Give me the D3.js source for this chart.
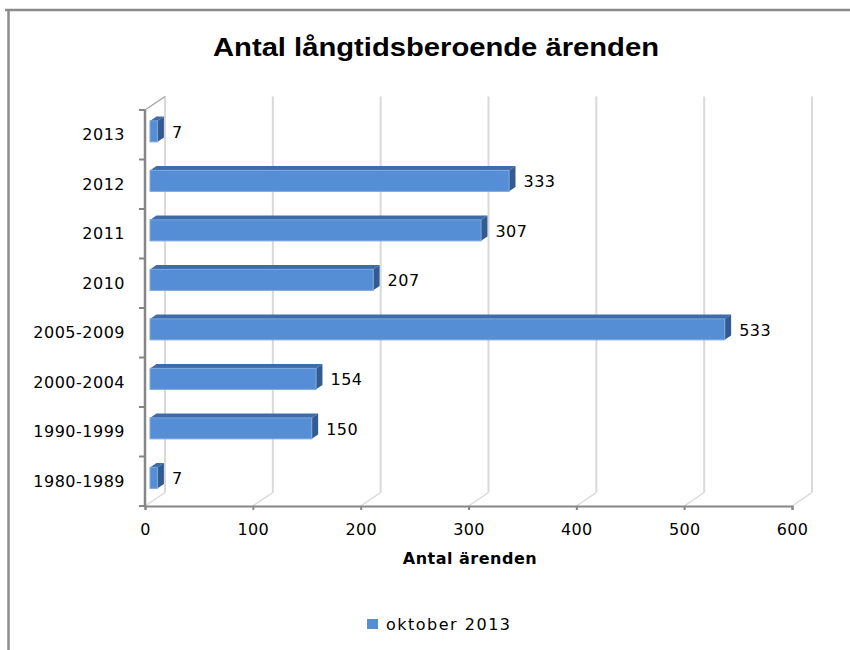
<!DOCTYPE html>
<html>
<head>
<meta charset="utf-8">
<script src="https://cdn.jsdelivr.net/npm/d3@7"></script>
<style>
  html, body { margin: 0; padding: 0; background: #fff; }
  svg { display: block; }
</style>
</head>
<body>
<div id="chart"></div>
<script>
// ---- data ----
const categories = ["2013", "2012", "2011", "2010", "2005-2009", "2000-2004", "1990-1999", "1980-1989"];
const values = [7, 333, 307, 207, 533, 154, 150, 7];
const xTicks = [0, 100, 200, 300, 400, 500, 600];
const seriesName = "oktober 2013";
const titleText = "Antal långtidsberoende ärenden";
const xAxisTitle = "Antal ärenden";

// ---- layout ----
const W = 850, H = 650;
const svg = d3.select("#chart").append("svg").attr("width", W).attr("height", H);

const plotLeft = 145, plotRight = 792, plotTop = 110, plotBottom = 506;
const depthX = 20, depthY = -13.5;        // full 3D depth vector
const barOff = 0.25, barDepth = 0.32;     // bar position / depth as fraction of full depth
const barFrac = 0.424;                    // bar thickness as fraction of band

const x = d3.scaleLinear().domain([0, 600]).range([plotLeft, plotRight]);
const y = d3.scaleBand().domain(categories).range([plotTop, plotBottom]);

const gridColor = "#d9d9d9";
const axisColor = "#868686";
const font = "'DejaVu Sans', Verdana, sans-serif";

// outer frame (partially visible)
svg.append("line").attr("x1", 5).attr("x2", W).attr("y1", 10).attr("y2", 10)
  .attr("stroke", "#8c8c8c").attr("stroke-width", 2.5);
svg.append("line").attr("x1", 8.5).attr("x2", 8.5).attr("y1", 10).attr("y2", H)
  .attr("stroke", "#8c8c8c").attr("stroke-width", 2.5);

// title
svg.append("text").attr("x", 436).attr("y", 56).attr("text-anchor", "middle")
  .attr("font-family", "'Liberation Sans', Arial, sans-serif").attr("font-weight", "bold")
  .attr("font-size", 26).attr("fill", "#000")
  .attr("textLength", 446).attr("lengthAdjust", "spacingAndGlyphs")
  .text(titleText);

// back wall gridlines + floor diagonals
const grid = svg.append("g");
xTicks.forEach(v => {
  const xb = x(v) + depthX;
  grid.append("line").attr("x1", xb).attr("x2", xb)
    .attr("y1", plotTop + depthY).attr("y2", plotBottom + depthY)
    .attr("stroke", gridColor).attr("stroke-width", 2);
  grid.append("line").attr("x1", x(v)).attr("y1", plotBottom)
    .attr("x2", xb).attr("y2", plotBottom + depthY)
    .attr("stroke", gridColor).attr("stroke-width", 1.5);
});
// left wall top edge
grid.append("line").attr("x1", plotLeft).attr("y1", plotTop)
  .attr("x2", plotLeft + depthX).attr("y2", plotTop + depthY)
  .attr("stroke", "#a6a6a6").attr("stroke-width", 1.5);

// bars
const bars = svg.append("g");
const bw = y.bandwidth() * barFrac;
const ox = depthX * barOff, oy = depthY * barOff;
const dx = depthX * barDepth, dy = depthY * barDepth;
categories.forEach((c, i) => {
  const v = values[i];
  const x0 = x(0) + ox, x1 = x(v) + ox;
  const yc = y(c) + y.bandwidth() / 2 + oy;
  const yt = yc - bw / 2, yb = yc + bw / 2;
  // top face
  bars.append("path")
    .attr("d", `M${x0},${yt} L${x0 + dx},${yt + dy} L${x1 + dx},${yt + dy} L${x1},${yt} Z`)
    .attr("fill", "#3f6ca9");
  // right face
  bars.append("path")
    .attr("d", `M${x1},${yt} L${x1 + dx},${yt + dy} L${x1 + dx},${yb + dy} L${x1},${yb} Z`)
    .attr("fill", "#335b8f");
  // front face
  bars.append("rect").attr("x", x0).attr("y", yt).attr("width", x1 - x0).attr("height", bw)
    .attr("fill", "#558ed5").attr("stroke", "#7aa7e0").attr("stroke-width", 1);
  // value label
  bars.append("text").attr("x", x1 + dx + 8).attr("y", yc + 1).attr("dy", "0.35em")
    .attr("font-family", font).attr("font-size", 16).attr("letter-spacing", 0.5)
    .attr("fill", "#000").text(v);
});

// left (category) axis
const yAxisG = svg.append("g");
yAxisG.append("line").attr("x1", plotLeft).attr("x2", plotLeft)
  .attr("y1", plotTop).attr("y2", plotBottom)
  .attr("stroke", axisColor).attr("stroke-width", 2.5);
const boundaries = categories.map(c => y(c)).concat([plotBottom]);
boundaries.forEach(b => {
  yAxisG.append("line").attr("x1", plotLeft - 6).attr("x2", plotLeft)
    .attr("y1", b).attr("y2", b).attr("stroke", axisColor).attr("stroke-width", 2);
});
categories.forEach(c => {
  yAxisG.append("text").attr("x", 125).attr("y", y(c) + y.bandwidth() / 2).attr("dy", "0.35em")
    .attr("text-anchor", "end").attr("font-family", font).attr("font-size", 16)
    .attr("letter-spacing", 0.5).attr("fill", "#000").text(c);
});

// bottom (value) axis
const xAxisG = svg.append("g").attr("transform", `translate(0,${plotBottom})`)
  .call(d3.axisBottom(x).tickValues(xTicks).tickSize(4).tickPadding(14).tickFormat(d3.format("d")));
xAxisG.select(".domain").attr("stroke", axisColor).attr("stroke-width", 2);
xAxisG.selectAll(".tick line").attr("stroke", axisColor).attr("stroke-width", 2);
xAxisG.selectAll(".tick text").attr("font-family", font).attr("font-size", 16)
  .attr("letter-spacing", 0.3).attr("fill", "#000");

// axis title
svg.append("text").attr("x", 470).attr("y", 564).attr("text-anchor", "middle")
  .attr("font-family", font).attr("font-weight", "bold").attr("font-size", 16)
  .attr("letter-spacing", 0.5).attr("fill", "#000").text(xAxisTitle);

// legend
svg.append("rect").attr("x", 367).attr("y", 619).attr("width", 11).attr("height", 10)
  .attr("fill", "#558ed5");
svg.append("text").attr("x", 386).attr("y", 624.5).attr("dy", "0.35em")
  .attr("font-family", font).attr("font-size", 16).attr("letter-spacing", 1.5)
  .attr("fill", "#000").text(seriesName);
</script>
</body>
</html>
